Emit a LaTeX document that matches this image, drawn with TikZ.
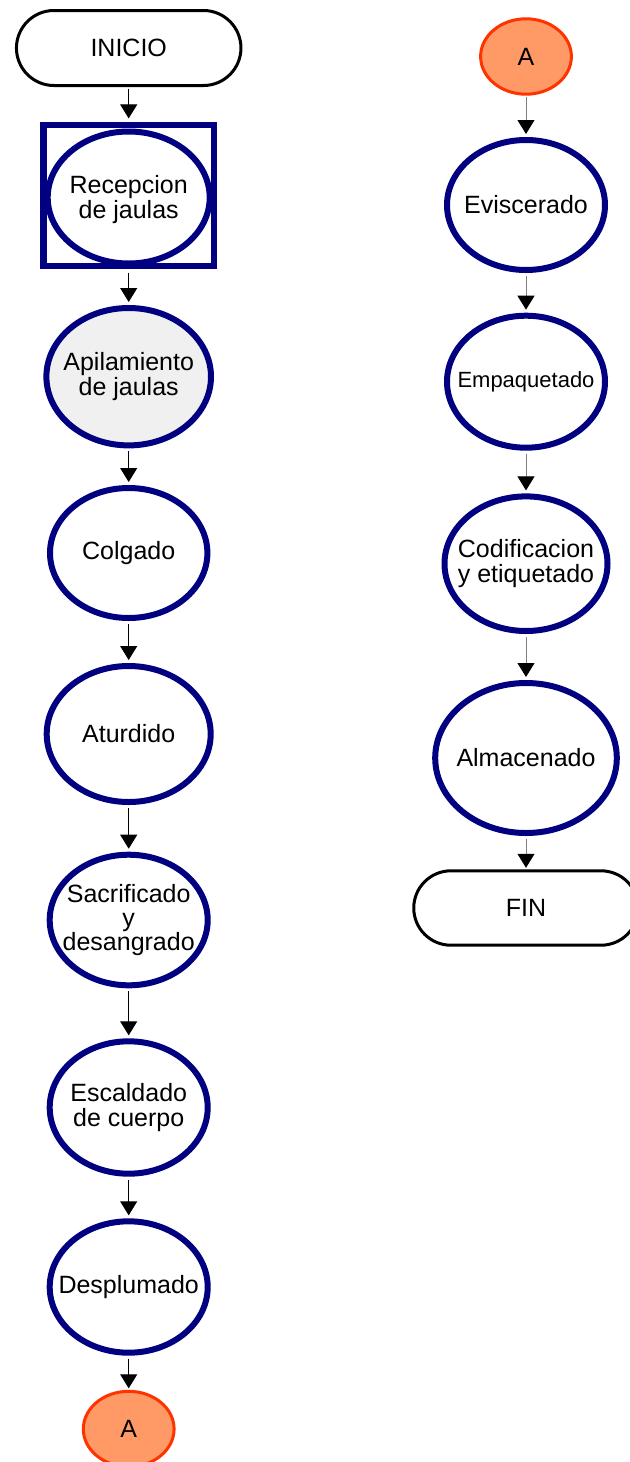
\documentclass[tikz,border=0pt]{standalone}
\usepackage{fontspec}
\setmainfont{Liberation Sans}
\usetikzlibrary{shapes.geometric,shapes.misc,arrows.meta}
\definecolor{navy}{HTML}{000080}
\definecolor{conline}{HTML}{FF3300}
\definecolor{confill}{HTML}{FF9966}
\begin{document}
\begin{tikzpicture}[x=0.5pt,y=-0.5pt,
  txt/.style={align=center,inner sep=0pt,font=\fontsize{12.5}{12.2}\selectfont},
  term/.style={rounded rectangle,draw=black,line width=1.5pt,fill=white,inner sep=0pt,
     minimum width=112.25pt,minimum height=37.5pt,font=\fontsize{12.5}{14}\selectfont},
  proc/.style={ellipse,draw=navy,line width=3pt,fill=white,inner sep=0pt},
  conn/.style={ellipse,draw=conline,fill=confill,line width=1.5pt,inner sep=0pt,
     minimum width=45.4pt,minimum height=37.7pt,font=\fontsize{12.5}{14}\selectfont},
  flow/.style={draw=black,line width=0.5pt,-{Triangle[length=7pt,width=8.5pt]}},
  flowg/.style={draw=gray,line width=0.5pt,-{Triangle[length=7pt,width=8.5pt,color=black]}}
]
\useasboundingbox (0,0) rectangle (629,1462);
% left column
\node[term] (ini) at (128.7,48) {INICIO};
\node[draw=navy,line width=3.3pt,inner sep=0pt,minimum width=85.35pt,minimum height=70.5pt] (recbox) at (128.7,195.5) {};
\node[proc,minimum width=81pt,minimum height=66pt,label={[txt,yshift=-1pt]center:Recepcion\\de jaulas}] (rec) at (128.7,197.5) {};
\node[proc,fill=black!6,minimum width=82.3pt,minimum height=68.7pt,label={[txt]center:Apilamiento\\de jaulas}] (apil) at (128.7,376.7) {};
\node[proc,minimum width=78.7pt,minimum height=65pt,label={[txt]center:Colgado}] (col) at (128.7,553) {};
\node[proc,minimum width=82pt,minimum height=68pt,label={[txt]center:Aturdido}] (atu) at (128.7,734) {};
\node[proc,minimum width=79pt,minimum height=65.3pt,label={[txt]center:Sacrificado\\y\\desangrado}] (sac) at (128.7,920) {};
\node[proc,minimum width=79pt,minimum height=66.2pt,label={[txt]center:Escaldado\\de cuerpo}] (esc) at (128.7,1107.5) {};
\node[proc,minimum width=79pt,minimum height=65.7pt,label={[txt]center:Desplumado}] (des) at (128.7,1287) {};
\node[conn] (a1) at (128.7,1429) {A};
% right column
\node[conn] (a2) at (526,56.5) {A};
\node[proc,minimum width=79pt,minimum height=65pt,label={[txt]center:Eviscerado}] (evi) at (526,205) {};
\node[proc,minimum width=79pt,minimum height=66pt,label={[txt,font=\fontsize{11}{12}\selectfont]center:Empaquetado}] (emp) at (526,381.7) {};
\node[proc,minimum width=81.5pt,minimum height=67.3pt,label={[txt]center:Codificacion\\y etiquetado}] (cod) at (526,563.7) {};
\node[proc,minimum width=90.8pt,minimum height=75pt,label={[txt]center:Almacenado}] (alm) at (526,758) {};
\node[term,minimum height=37.2pt] (fin) at (526,908) {FIN};
% connectors left
\draw[flow,shorten <=0.75pt,shorten >=1.65pt] (ini.south) -- (recbox.north);
\draw[flow,shorten <=1.65pt,shorten >=1.5pt] (recbox.south) -- (apil.north);
\draw[flow,shorten <=1.5pt,shorten >=1.5pt] (apil.south) -- (col.north);
\draw[flow,shorten <=1.5pt,shorten >=1.5pt] (col.south) -- (atu.north);
\draw[flow,shorten <=1.5pt,shorten >=1.5pt] (atu.south) -- (sac.north);
\draw[flow,shorten <=1.5pt,shorten >=1.5pt] (sac.south) -- (esc.north);
\draw[flow,shorten <=1.5pt,shorten >=1.5pt] (esc.south) -- (des.north);
\draw[flow,shorten <=1.5pt,shorten >=0.75pt] (des.south) -- (a1.north);
% connectors right
\draw[flowg,shorten <=0.75pt,shorten >=1.5pt] (a2.south) -- (evi.north);
\draw[flowg,shorten <=1.5pt,shorten >=1.5pt] (evi.south) -- (emp.north);
\draw[flowg,shorten <=1.5pt,shorten >=1.5pt] (emp.south) -- (cod.north);
\draw[flowg,shorten <=1.5pt,shorten >=1.5pt] (cod.south) -- (alm.north);
\draw[flowg,shorten <=1.5pt,shorten >=0.75pt] (alm.south) -- (fin.north);
\end{tikzpicture}
\end{document}
